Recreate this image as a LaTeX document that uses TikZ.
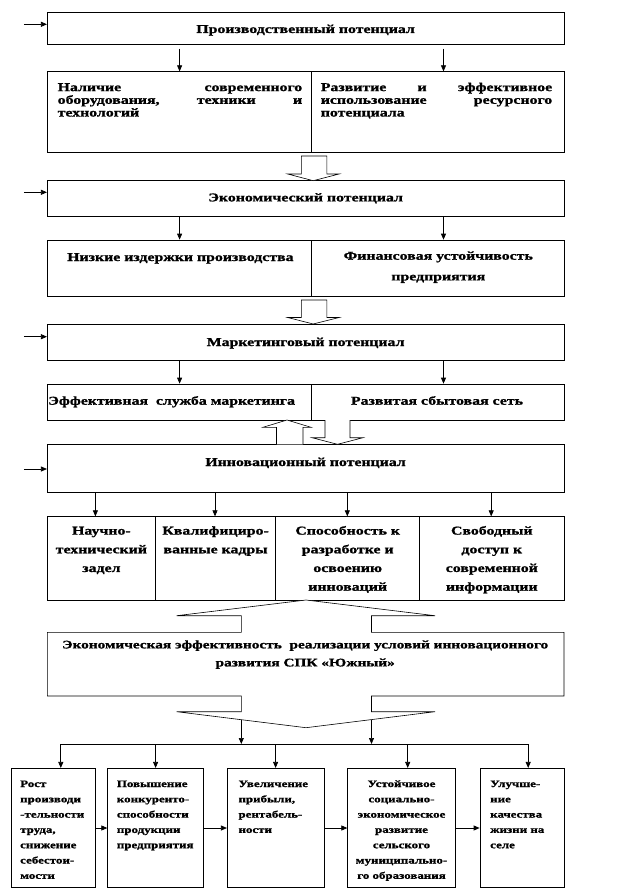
\documentclass[tikz,border=0pt]{standalone}
\usepackage{fontspec}
\setmainfont{Liberation Serif}[FakeStretch=1.32, BoldFeatures={FakeBold=1.2}]
\usetikzlibrary{arrows.meta,fit,calc}
\newcommand\dfont{\fontsize{12}{12.7}\selectfont\bfseries}
\begin{document}
\begin{tikzpicture}[x=1pt,y=-1pt,
  box/.style={draw, line width=0.7pt, inner sep=0pt, fill=white},
  txt/.style={inner sep=0pt, font=\dfont},
  arr/.style={-{Triangle[length=6pt,width=5pt]}, line width=0.7pt},
  hollow/.style={draw, fill=white, line width=0.6pt, line join=miter},
  bus/.style={line width=0.7pt}]
\useasboundingbox (0,0) rectangle (644,896);

% ---------- level 1 ----------
\node[box, fit={(47.3,12.7) (564,44.3)}] (prod) {};
\node[txt, anchor=base] (tprod) at (305.6,33) {Производственный потенциал};
\node[box, fit={(47.3,71.7) (311.5,152.3)}] (r2a) {};
\node[box, fit={(311.5,71.7) (564,152.3)}] (r2b) {};
\node[txt, anchor=north west, text width=244.5pt, align=left] (tr2a) at (57.5,82)
  {\strut Наличие\hfill современного\\ оборудования,\hfill техники\hfill и\\ технологий};
\node[txt, anchor=north west, text width=231.4pt, align=left] (tr2b) at (320.6,82)
  {\strut Развитие\hfill и\hfill эффективное\\ использование\hfill ресурсного\\ потенциала};

% ---------- level 2 ----------
\node[box, fit={(47.3,180.7) (564,216)}] (econ) {};
\node[txt, anchor=base] (tecon) at (305.6,201.4) {Экономический потенциал};
\node[box, fit={(47.3,240) (311.5,296)}] (e2a) {};
\node[box, fit={(311.5,240) (564,296)}] (e2b) {};
\node[txt, anchor=base] (te2a) at (180.4,261) {Низкие издержки производства};
\node[txt, anchor=north, align=center, font={\fontsize{12}{20.7}\selectfont\bfseries}] (te2b) at (438.3,245)
  {\strut Финансовая устойчивость\\ предприятия};

% ---------- level 3 ----------
\node[box, fit={(47.3,324) (564,360.7)}] (mkt) {};
\node[txt, anchor=base] (tmkt) at (305.6,346) {Маркетинговый потенциал};
\node[box, fit={(47.3,384) (311.5,420)}] (m2a) {};
\node[box, fit={(311.5,384) (564,420)}] (m2b) {};
\node[txt, anchor=base] (tm2a) at (171.6,404.7) {Эффективная\ \ служба маркетинга};
\node[txt, anchor=base] (tm2b) at (437,404.7) {Развитая сбытовая сеть};

% ---------- level 4 ----------
\node[box, fit={(47.3,444.3) (564,492.3)}] (inn) {};
\node[txt, anchor=base] (tinn) at (305.6,466) {Инновационный потенциал};
\node[box, fit={(47.3,516.7) (155.4,600)}] (i5a) {};
\node[box, fit={(155.4,516.7) (275.8,600)}] (i5b) {};
\node[box, fit={(275.8,516.7) (419.6,600)}] (i5c) {};
\node[box, fit={(419.6,516.7) (564,600)}] (i5d) {};
\tikzset{i5t/.style={txt, anchor=north, align=center, font={\fontsize{12}{18.7}\selectfont\bfseries}}}
\node[i5t] (ti5a) at (101.4,521.3) {\strut Научно-\\технический\\задел};
\node[i5t] (ti5b) at (215.6,521.3) {\strut Квалифициро-\\ванные кадры};
\node[i5t] (ti5c) at (347.7,521.3) {\strut Способность к\\разработке и\\освоению\\инноваций};
\node[i5t] (ti5d) at (491.8,521.3) {\strut Свободный\\доступ к\\современной\\информации};

% ---------- big double arrow box ----------
\draw[hollow] (306,600) -- (435,615.7) -- (371.5,615.7) -- (371.5,632.3) -- (564,632.3)
  -- (564,696) -- (371.5,696) -- (371.5,711.7) -- (435,711.7) -- (306,727.7)
  -- (176.7,711.7) -- (241.3,711.7) -- (241.3,696) -- (47.3,696) -- (47.3,632.3)
  -- (241.3,632.3) -- (241.3,615.7) -- (176.7,615.7) -- cycle;
\node[txt, anchor=north, align=center, font={\fontsize{11.6}{18}\selectfont\bfseries}] (eff) at (305.2,635.6)
  {\strut Экономическая эффективность\ \ реализации условий инновационного\\ развития СПК «Южный»};

% ---------- bottom row ----------
\node[box, fit={(11.5,768.3) (95.8,887.7)}] (b1) {};
\node[box, fit={(107.7,768.3) (203.5,887.7)}] (b2) {};
\node[box, fit={(227.3,768.3) (323.9,887.7)}] (b3) {};
\node[box, fit={(347.7,768.3) (455.4,887.7)}] (b4) {};
\node[box, fit={(480,768.3) (564,887.7)}] (b5) {};
\tikzset{bt/.style={txt, anchor=north west, align=left, font={\fontsize{9.8}{15.3}\selectfont\bfseries}}}
\node[bt] (tb1) at (20,776.1) {\strut Рост\\производи\\-тельности\\труда,\\снижение\\себестои-\\мости};
\node[bt] (tb2) at (116.7,776.1) {\strut Повышение\\конкуренто-\\способности\\продукции\\предприятия};
\node[bt] (tb3) at (238.3,776.1) {\strut Увеличение\\прибыли,\\рентабель-\\ности};
\node[bt, anchor=north, align=center] (tb4) at (401.5,776.1) {\strut Устойчивое\\социально-\\экономическое\\развитие\\сельского\\муниципально-\\го образования};
\node[bt] (tb5) at (490,776.1) {\strut Улучше-\\ние\\качества\\жизни на\\селе};

% ---------- hollow arrows ----------
\draw[hollow] (301.3,156) -- (301.3,174) -- (287.7,174) -- (313.2,180.7) -- (339.1,174) -- (326.8,174) -- (326.8,156) -- cycle;
\draw[hollow] (301.3,300) -- (301.3,317.5) -- (287.7,317.5) -- (313.2,324) -- (339.1,317.5) -- (326.8,317.5) -- (326.8,300) -- cycle;
\draw[hollow] (276.5,444.3) -- (276.5,427.3) -- (263,427.3) -- (287,420) -- (311,427.3) -- (303,427.3) -- (303,444.3);
\draw[hollow] (325,420) -- (325,437.7) -- (312,437.7) -- (337.5,444.3) -- (363,437.7) -- (350,437.7) -- (350,420);

% ---------- input arrows ----------
\coordinate (in1) at (23.8,24.3);
\coordinate (in2) at (23.8,192.3);
\coordinate (in3) at (23.8,336.7);
\coordinate (in4) at (23.8,469);
\draw[arr] (in1) -- (in1 -| prod.west);
\draw[arr] (in2) -- (in2 -| econ.west);
\draw[arr] (in3) -- (in3 -| mkt.west);
\draw[arr] (in4) -- (in4 -| inn.west);

% ---------- down arrows ----------
\coordinate (xl) at (179.6,0);
\coordinate (xr) at (443.5,0);
\draw[arr] ($(prod.south -| xl)+(0,4)$) -- (r2a.north -| xl);
\draw[arr] ($(prod.south -| xr)+(0,4)$) -- (r2b.north -| xr);
\draw[arr] (econ.south -| xl) -- (e2a.north -| xl);
\draw[arr] (econ.south -| xr) -- (e2b.north -| xr);
\draw[arr] (mkt.south -| xl) -- (m2a.north -| xl);
\draw[arr] (mkt.south -| xr) -- (m2b.north -| xr);
\coordinate (xa) at (95.4,0);
\coordinate (xb) at (215,0);
\coordinate (xc) at (347.3,0);
\coordinate (xd) at (491.2,0);
\draw[arr] (inn.south -| xa) -- (i5a.north -| xa);
\draw[arr] (inn.south -| xb) -- (i5b.north -| xb);
\draw[arr] (inn.south -| xc) -- (i5c.north -| xc);
\draw[arr] (inn.south -| xd) -- (i5d.north -| xd);

% ---------- distribution ----------
\coordinate (vl) at (241.3,719.8);
\coordinate (vr) at (371.5,719.8);
\coordinate (busL) at (60.8,744);
\coordinate (busR) at (528.2,744);
\coordinate (bus4) at (407.7,744);
\draw[bus] (busL) -- (busR);
\draw[arr] (vl) -- (vl |- busL);
\draw[arr] (vr) -- (vr |- busL);
\draw[arr] (busL) -- (b1.north -| busL);
\draw[arr] (b2.north |- busL) -- (b2.north);
\draw[arr] (b3.north |- busL) -- (b3.north);
\draw[arr] (bus4) -- (b4.north -| bus4);
\draw[arr] (busR) -- (b5.north -| busR);
\draw[arr] (b1.east) -- (b2.west);
\draw[arr] (b2.east) -- (b3.west);
\draw[arr] (b3.east) -- (b4.west);
\draw[arr] (b4.east) -- (b5.west);
\end{tikzpicture}
\end{document}
